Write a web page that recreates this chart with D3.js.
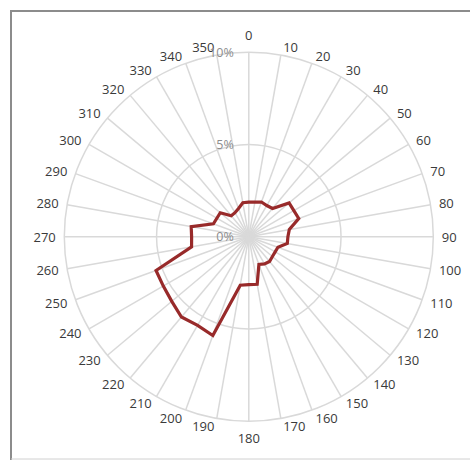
<!DOCTYPE html>
<html><head><meta charset="utf-8">
<script src="https://cdn.jsdelivr.net/npm/d3@7"></script>
<style>html,body{margin:0;padding:0;background:#fff;}svg{display:block;}</style>
</head><body>
<script>
const directions = [0,10,20,30,40,50,60,70,80,90,100,110,120,130,140,150,160,170,180,190,200,210,220,230,240,250,260,270,280,290,300,310,320,330,340,350];
const frequency = [1.87,1.9,2.0,1.95,2.0,2.85,2.82,2.88,2.23,2.12,2.12,1.68,1.65,1.67,1.75,1.7,1.6,2.62,2.6,2.67,5.7,5.55,5.68,5.45,5.35,5.35,3.15,3.1,3.17,2.04,2.0,2.02,1.48,1.5,1.63,1.87];
const radialTicks = [0,5,10];
const radialTickLabels = ["0%","5%","10%"];

const W = 470, H = 460;
const cx = 248.8, cy = 236.7, R = 184.5;

const svg = d3.select("body").append("svg").attr("width", W).attr("height", H);

// frame
svg.append("line").attr("x1",10).attr("y1",11).attr("x2",470).attr("y2",11).attr("stroke","#8c8c8c").attr("stroke-width",2);
svg.append("line").attr("x1",11).attr("y1",10).attr("x2",11).attr("y2",460).attr("stroke","#8c8c8c").attr("stroke-width",2);
svg.append("line").attr("x1",11).attr("y1",459).attr("x2",470).attr("y2",459).attr("stroke","#d0d0d0").attr("stroke-width",1);

const r = d3.scaleLinear().domain([0,10]).range([0,R]);
const a = d3.scaleLinear().domain([0,360]).range([0,2*Math.PI]);

const g = svg.append("g").attr("transform",`translate(${cx},${cy})`);

// circles
g.selectAll("circle.grid").data(radialTicks.filter(d=>d>0)).join("circle")
  .attr("r", d=>r(d)).attr("fill","none").attr("stroke","#d9d9d9").attr("stroke-width",1.5);

// spokes
g.selectAll("line.spoke").data(directions).join("line")
  .attr("x1",0).attr("y1",0)
  .attr("x2", d=>r(10)*Math.sin(a(d)))
  .attr("y2", d=>-r(10)*Math.cos(a(d)))
  .attr("stroke","#d9d9d9").attr("stroke-width",1.5);

// direction labels (Excel-like placement)
g.selectAll("text.dir").data(directions).join("text")
  .each(function(d){
    const t = a(d), s = Math.sin(t), c = Math.cos(t);
    const px = R*s, py = -R*c;
    const el = d3.select(this);
    if (Math.abs(s) < 1e-6) {
      el.attr("x", px).attr("y", py + (c > 0 ? -17.7 : 17.3)).attr("text-anchor","middle");
    } else {
      const dx = 1 + 7.5*Math.abs(s);
      el.attr("x", s > 0 ? px + dx : px - dx)
        .attr("y", py - 8*c)
        .attr("text-anchor", s > 0 ? "start" : "end");
    }
  })
  .attr("dominant-baseline","central")
  .attr("font-family","'Open Sans', sans-serif").attr("font-size",13)
  .attr("fill","#3a3a3a").text(d=>d);

// radial tick labels
g.selectAll("text.rt").data(radialTicks).join("text")
  .attr("x",-15).attr("y", d=>-r(d))
  .attr("text-anchor","end").attr("dominant-baseline","central")
  .attr("font-family","'Open Sans', sans-serif").attr("font-size",12.5)
  .attr("fill","#8c8c8c").text((d,i)=>radialTickLabels[i]);

// series
const line = d3.lineRadial()
  .angle((d,i)=>a(directions[i]))
  .radius(d=>r(d))
  .curve(d3.curveLinearClosed);
g.append("path").datum(frequency).attr("d", line)
  .attr("fill","none").attr("stroke","#982a2a").attr("stroke-width",3.2).attr("stroke-linejoin","miter");
</script>
</body></html>
